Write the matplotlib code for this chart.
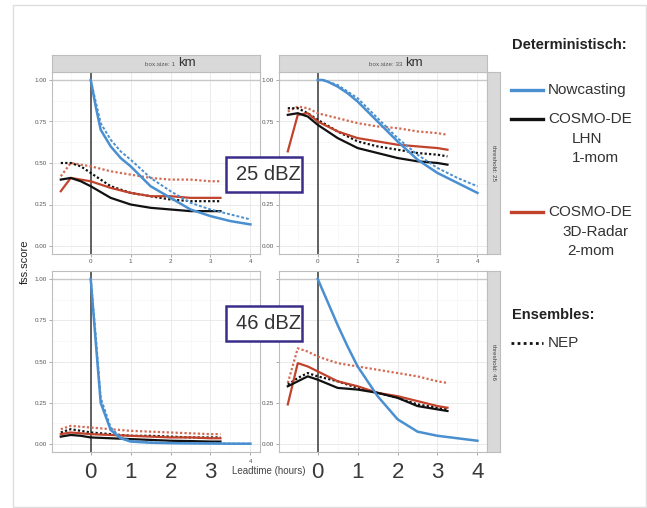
#!/usr/bin/env python3
"""FSS score vs. lead time, 2x2 facet grid (box size x threshold) with legend."""

import matplotlib.pyplot as plt
from matplotlib.patches import Rectangle
from matplotlib.lines import Line2D

plt.rcParams["font.family"] = ["Liberation Sans", "DejaVu Sans"]

W, H = 647, 508

# lead times (hours)
X_MODEL = [-0.75, -0.5, -0.25, 0, 0.5, 1, 1.5, 2, 2.5, 3, 3.25]
X_NOW = [0, 0.125, 0.25, 0.5, 0.75, 1, 1.5, 2, 2.5, 3, 3.5, 4]
X_TICKS = [0, 1, 2, 3, 4]

# box 1 km, threshold 25
tl_now = [1.0, 0.84, 0.70, 0.60, 0.53, 0.48, 0.36, 0.29, 0.22, 0.18, 0.15, 0.13]
tl_now_ens = [1.0, 0.87, 0.74, 0.64, 0.57, 0.52, 0.41, 0.33, 0.26, 0.22, 0.19, 0.16]
tl_lhn = [0.40, 0.41, 0.39, 0.36, 0.29, 0.25, 0.23, 0.22, 0.21, 0.21, 0.21]
tl_lhn_ens = [0.50, 0.50, 0.48, 0.44, 0.36, 0.32, 0.30, 0.28, 0.27, 0.27, 0.27]
tl_radar = [0.33, 0.41, 0.40, 0.39, 0.35, 0.32, 0.30, 0.30, 0.29, 0.29, 0.29]
tl_radar_ens = [0.42, 0.50, 0.49, 0.48, 0.45, 0.43, 0.41, 0.40, 0.40, 0.39, 0.39]

# box 33 km, threshold 25
tr_now = [1.0, 1.0, 0.99, 0.96, 0.92, 0.87, 0.75, 0.63, 0.52, 0.44, 0.38, 0.32]
tr_now_ens = [1.0, 1.0, 0.99, 0.97, 0.93, 0.89, 0.77, 0.65, 0.55, 0.47, 0.41, 0.36]
tr_lhn = [0.79, 0.80, 0.78, 0.73, 0.65, 0.59, 0.56, 0.53, 0.51, 0.50, 0.49]
tr_lhn_ens = [0.83, 0.83, 0.80, 0.76, 0.69, 0.63, 0.60, 0.58, 0.56, 0.55, 0.54]
tr_radar = [0.57, 0.79, 0.80, 0.75, 0.69, 0.65, 0.63, 0.61, 0.60, 0.59, 0.58]
tr_radar_ens = [0.81, 0.84, 0.83, 0.80, 0.77, 0.74, 0.72, 0.71, 0.69, 0.68, 0.67]

# box 1 km, threshold 46
bl_now = [1.0, 0.62, 0.25, 0.085, 0.035, 0.015, 0.008, 0.005, 0.004, 0.003, 0.002, 0.002]
bl_now_ens = [1.0, 0.66, 0.28, 0.10, 0.04, 0.02, 0.01, 0.007, 0.005, 0.004, 0.003, 0.002]
bl_lhn = [0.045, 0.055, 0.05, 0.04, 0.035, 0.03, 0.025, 0.02, 0.018, 0.015, 0.015]
bl_lhn_ens = [0.07, 0.09, 0.08, 0.07, 0.06, 0.05, 0.05, 0.045, 0.04, 0.04, 0.04]
bl_radar = [0.06, 0.07, 0.065, 0.06, 0.055, 0.05, 0.045, 0.04, 0.04, 0.035, 0.035]
bl_radar_ens = [0.09, 0.11, 0.105, 0.10, 0.09, 0.08, 0.075, 0.07, 0.065, 0.06, 0.06]

# box 33 km, threshold 46
br_now = [1.0, 0.93, 0.86, 0.72, 0.59, 0.47, 0.29, 0.15, 0.075, 0.05, 0.035, 0.02]
br_now_ens = None
br_lhn = [0.35, 0.38, 0.41, 0.39, 0.34, 0.33, 0.31, 0.28, 0.23, 0.21, 0.20]
br_lhn_ens = [0.36, 0.40, 0.43, 0.41, 0.38, 0.34, 0.31, 0.28, 0.24, 0.22, 0.21]
br_radar = [0.24, 0.49, 0.47, 0.44, 0.38, 0.35, 0.31, 0.29, 0.26, 0.23, 0.22]
br_radar_ens = [0.37, 0.58, 0.56, 0.53, 0.49, 0.47, 0.45, 0.43, 0.41, 0.38, 0.37]

BOX_SIZES = ["1", "33"]
THRESHOLDS = ["25", "46"]

BLUE = "#4a8fd0"
BLACK = "#111111"
RED = "#c2432c"
RED_ENS = "#d36a52"
FRAME = "#3a2d8a"
TXT = "#333333"


def fig_rect(x0, y0, x1, y1):
    """pixel box (top-left origin) -> figure fraction [l, b, w, h]"""
    return [x0 / W, 1 - y1 / H, (x1 - x0) / W, (y1 - y0) / H]


def style_panel(ax):
    ax.set_xlim(-0.97, 4.24)
    ax.set_ylim(-0.05, 1.05)
    ax.set_xticks(X_TICKS)
    ax.set_xticks([-0.5, 0.5, 1.5, 2.5, 3.5], minor=True)
    ax.set_yticks([0, 0.25, 0.5, 0.75, 1.0])
    ax.set_yticks([0.125, 0.375, 0.625, 0.875], minor=True)
    ax.set_yticklabels(["0.00", "0.25", "0.50", "0.75", "1.00"])
    ax.grid(which="major", color="#e6e6e6", linewidth=0.6)
    ax.grid(which="minor", color="#f3f3f3", linewidth=0.4)
    ax.set_axisbelow(True)
    ax.tick_params(which="major", length=2, width=0.5, color="#888888",
                   labelsize=4.5, labelcolor="#555555", pad=1.5)
    ax.tick_params(which="minor", length=0)
    for s in ax.spines.values():
        s.set_color("#bdbdbd")
        s.set_linewidth(0.8)
    ax.axhline(1.0, color="#c8c8c8", linewidth=1.0, zorder=1)
    ax.axvline(0, color="#555555", linewidth=1.3, zorder=2)


def draw_lines(ax, now, now_ens, lhn, lhn_ens, radar, radar_ens):
    ax.plot(X_MODEL, radar_ens, color=RED_ENS, lw=1.6, ls=(0, (1, 1)), zorder=3)
    ax.plot(X_MODEL, lhn_ens, color=BLACK, lw=1.6, ls=(0, (1, 1)), zorder=3)
    ax.plot(X_MODEL, radar, color=RED, lw=1.6, zorder=4)
    ax.plot(X_MODEL, lhn, color=BLACK, lw=1.6, zorder=4)
    if now_ens is not None:
        ax.plot(X_NOW, now_ens, color=BLUE, lw=1.4, ls=(0, (1.5, 1)), zorder=5)
    ax.plot(X_NOW, now, color=BLUE, lw=1.8, zorder=5)


def main() -> None:
    fig = plt.figure(figsize=(W / 100, H / 100), dpi=100)
    fig.patch.set_facecolor("white")

    # thin outer frame of the slide image
    fig.add_artist(Rectangle((13 / W, 1 - 507 / H), 633 / W, 502 / H,
                             transform=fig.transFigure, fill=False,
                             edgecolor="#dedede", linewidth=1))

    cols = [(52, 260), (279, 487)]
    rows = [(71.7, 254.3), (270.7, 452.3)]
    data = [[(tl_now, tl_now_ens, tl_lhn, tl_lhn_ens, tl_radar, tl_radar_ens),
             (tr_now, tr_now_ens, tr_lhn, tr_lhn_ens, tr_radar, tr_radar_ens)],
            [(bl_now, bl_now_ens, bl_lhn, bl_lhn_ens, bl_radar, bl_radar_ens),
             (br_now, br_now_ens, br_lhn, br_lhn_ens, br_radar, br_radar_ens)]]

    for r, (y0, y1) in enumerate(rows):
        for c, (x0, x1) in enumerate(cols):
            ax = fig.add_axes(fig_rect(x0, y0, x1, y1))
            style_panel(ax)
            draw_lines(ax, *data[r][c])
            if r == 1:
                # big hand-placed hour numbers of the slide
                ax.tick_params(axis="x", labelsize=16, labelcolor="#3a3a3a",
                               pad=5, length=2)
                if c == 0:
                    # only the small ggplot label for 4 h survives here
                    ax.set_xticklabels([str(t) for t in X_TICKS[:-1]] + [""])
                    ax.text(X_TICKS[-1], -0.035, str(X_TICKS[-1]),
                            transform=ax.get_xaxis_transform(), ha="center",
                            va="top", fontsize=4.5, color="#555555")
                else:
                    ax.set_yticklabels(["0.00", "0.25", "", "", ""])
            if c == 1:
                # threshold strip on the right
                sx = fig.add_axes(fig_rect(x1, y0, x1 + 13, y1))
                sx.set_facecolor("#d9d9d9")
                sx.set_xticks([])
                sx.set_yticks([])
                for s in sx.spines.values():
                    s.set_color("#bdbdbd")
                sx.text(0.5, 0.5, f"threshold: {THRESHOLDS[r]}", rotation=-90,
                        ha="center", va="center", fontsize=4.5, color="#444444",
                        transform=sx.transAxes)
            if r == 0:
                tx = fig.add_axes(fig_rect(x0, 55, x1, y0))
                tx.set_facecolor("#d9d9d9")
                tx.set_xticks([])
                tx.set_yticks([])
                for s in tx.spines.values():
                    s.set_color("#bdbdbd")
                tx.text(0.60, 0.45, f"box.size: {BOX_SIZES[c]} ", ha="right",
                        va="center", fontsize=4.5, color="#555555",
                        transform=tx.transAxes)
                tx.text(0.605, 0.5, "km", ha="left", va="center", fontsize=9.5,
                        color="#333333", transform=tx.transAxes)

    # axis titles
    fig.text(25 / W, 1 - 262 / H, "fss.score", rotation=90, ha="center",
             va="center", fontsize=8, color="#222222")
    fig.text(269 / W, 1 - 471 / H, "Leadtime (hours)", ha="center",
             va="center", fontsize=7, color="#444444")

    # dBZ boxes
    for (bx0, by0, bx1, by1), label in [((226, 157, 302, 192), "25 dBZ"),
                                         ((226, 306, 302, 341), "46 dBZ")]:
        fig.add_artist(Rectangle((bx0 / W, 1 - by1 / H), (bx1 - bx0) / W,
                                 (by1 - by0) / H, transform=fig.transFigure,
                                 facecolor="white", edgecolor=FRAME,
                                 linewidth=1.8, zorder=10))
        fig.text((bx0 + bx1 + 8) / 2 / W, 1 - (by0 + by1) / 2 / H, label,
                 ha="center", va="center", fontsize=14.5, color=TXT, zorder=11)

    # legend (drawn by hand, like the slide)
    fig.text(512 / W, 1 - 45 / H, "Deterministisch:", ha="left", va="center",
             fontsize=10.5, fontweight="bold", color="#222222")
    entries = [(BLUE, "-", 90, [(548, 90, "Nowcasting")]),
               (BLACK, "-", 119, [(548, 119, "COSMO-DE"), (572, 139, "LHN"),
                                  (572, 158, "1-mom")]),
               (RED, "-", 212, [(548, 212, "COSMO-DE"), (562, 232, "3D-Radar"),
                                (567, 251, "2-mom")]),
               (BLACK, ":", 343, [(548, 343, "NEP")])]
    for color, ls, ly, texts in entries:
        fig.add_artist(Line2D([511 / W, 543 / W], [1 - ly / H, 1 - ly / H],
                              color=color, lw=2.4 if ls == "-" else 2.0,
                              ls="-" if ls == "-" else (0, (1, 1.2)),
                              transform=fig.transFigure))
        for tx_, ty_, t in texts:
            fig.text(tx_ / W, 1 - ty_ / H, t, ha="left", va="center",
                     fontsize=11, color="#333333")
    fig.text(512 / W, 1 - 315 / H, "Ensembles:", ha="left", va="center",
             fontsize=10.5, fontweight="bold", color="#222222")

    fig.savefig("out.png", dpi=100, facecolor="white")
    plt.close(fig)


if __name__ == "__main__":
    main()
